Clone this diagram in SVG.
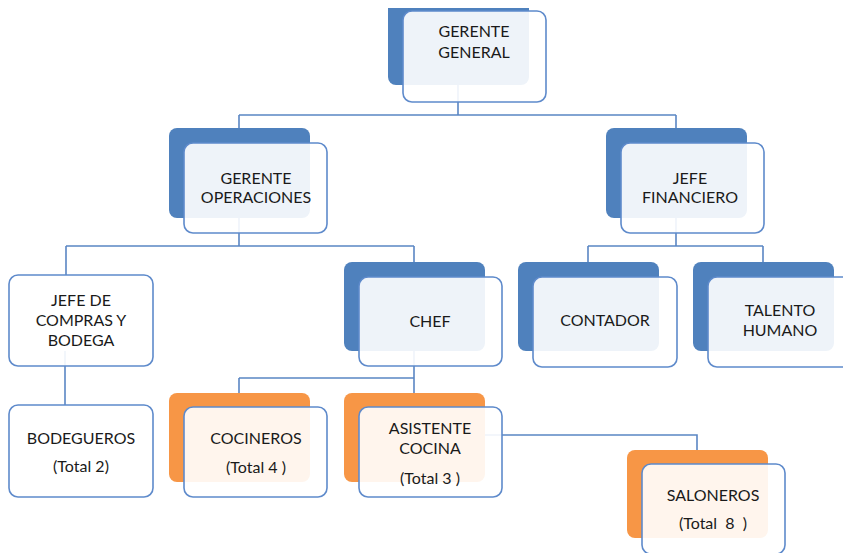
<svg xmlns="http://www.w3.org/2000/svg" width="843" height="553" viewBox="0 0 843 553">
  <style>
    .back { fill: #4F81BD; }
    .back.warm { fill: #F79646; }
    .front { fill: #FFFFFF; fill-opacity: 0.9; stroke: #5E8ACB; stroke-width: 1.6; }
    .link { fill: none; stroke: #5A86C4; stroke-width: 1.6; }
    text { font-family: Lato, "Liberation Sans", sans-serif; font-size: 16px; fill: #1A1A1A; text-anchor: middle; }
  </style>
  <defs>
    <clipPath id="page">
      <rect x="0" y="8" width="843" height="545"/>
    </clipPath>
  </defs>
  <rect width="843" height="553" fill="#FFFFFF"/>

  <!-- connectors sit under the boxes -->
  <g id="connectors" class="link">
    <path d="M458,85 V115 M239,115 H676 M239,115 V128 M676,115 V128"/>
    <path d="M239,218 V246 M66,246 H414 M66,246 V275 M414,246 V262"/>
    <path d="M676,218 V246 M588,246 H763 M588,246 V262 M763,246 V262"/>
    <path d="M65,351 V405"/>
    <path d="M414,351 V378 M239,378 H414 M239,378 V393 M414,378 V393"/>
    <path d="M485,435 H697 V450"/>
  </g>

  <g id="gerente-general" clip-path="url(#page)">
    <rect class="back" x="388" y="-4" width="141" height="89" rx="8"/>
    <rect class="front" x="403" y="11" width="143" height="91" rx="9"/>
    <text x="474" y="37">GERENTE</text>
    <text x="474" y="58">GENERAL</text>
  </g>

  <g id="gerente-operaciones">
    <rect class="back" x="169" y="128" width="141" height="90" rx="8"/>
    <rect class="front" x="184" y="143" width="143" height="90" rx="9"/>
    <text x="256" y="184">GERENTE</text>
    <text x="256" y="203">OPERACIONES</text>
  </g>

  <g id="jefe-financiero">
    <rect class="back" x="606" y="128" width="141" height="90" rx="8"/>
    <rect class="front" x="621" y="143" width="143" height="90" rx="9"/>
    <text x="690" y="184">JEFE</text>
    <text x="690" y="203">FINANCIERO</text>
  </g>

  <g id="jefe-compras">
    <rect class="front" x="9" y="275" width="144" height="91" rx="9"/>
    <text x="81" y="306">JEFE DE</text>
    <text x="81" y="326">COMPRAS Y</text>
    <text x="81" y="346">BODEGA</text>
  </g>

  <g id="bodegueros">
    <rect class="front" x="9" y="405" width="144" height="92" rx="9"/>
    <text x="81" y="444">BODEGUEROS</text>
    <text x="81" y="472">(Total 2)</text>
  </g>

  <g id="chef">
    <rect class="back" x="344" y="262" width="141" height="89" rx="8"/>
    <rect class="front" x="359" y="277" width="143" height="89" rx="9"/>
    <text x="430" y="327">CHEF</text>
  </g>

  <g id="contador">
    <rect class="back" x="518" y="262" width="141" height="89" rx="8"/>
    <rect class="front" x="533" y="277" width="144" height="90" rx="9"/>
    <text x="605" y="326">CONTADOR</text>
  </g>

  <g id="talento-humano">
    <rect class="back" x="693" y="262" width="141" height="89" rx="8"/>
    <rect class="front" x="708" y="277" width="143" height="90" rx="9"/>
    <text x="780" y="316">TALENTO</text>
    <text x="780" y="336">HUMANO</text>
  </g>

  <g id="cocineros">
    <rect class="back warm" x="169" y="393" width="141" height="89" rx="8"/>
    <rect class="front" x="184" y="407" width="143" height="90" rx="9"/>
    <text x="256" y="444">COCINEROS</text>
    <text x="256" y="473">(Total 4 )</text>
  </g>

  <g id="asistente-cocina">
    <rect class="back warm" x="344" y="393" width="141" height="89" rx="8"/>
    <rect class="front" x="359" y="407" width="143" height="90" rx="9"/>
    <text x="430" y="434">ASISTENTE</text>
    <text x="430" y="454">COCINA</text>
    <text x="430" y="484">(Total 3 )</text>
  </g>

  <g id="saloneros">
    <rect class="back warm" x="627" y="450" width="141" height="88" rx="8"/>
    <rect class="front" x="642" y="464" width="143" height="90" rx="9"/>
    <text x="713" y="501">SALONEROS</text>
    <text x="713" y="529" xml:space="preserve">(Total  8  )</text>
  </g>
</svg>
